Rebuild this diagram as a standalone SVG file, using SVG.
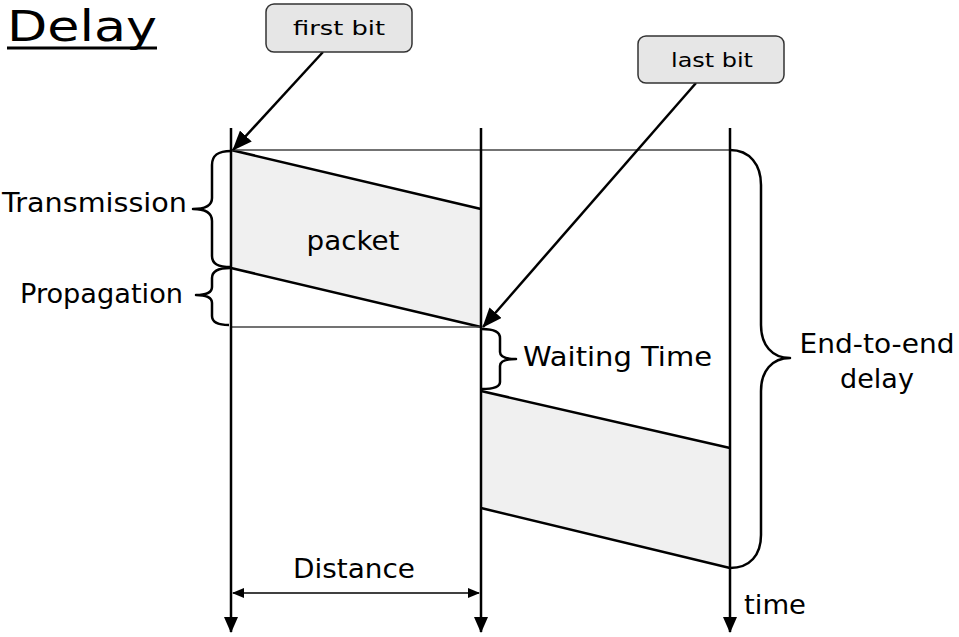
<svg xmlns="http://www.w3.org/2000/svg" width="959" height="637" viewBox="0 0 959 637">
<defs>
<style>
.lbl{font-family:"Comic Sans MS","DejaVu Sans",sans-serif;font-size:27px;fill:#000}
.small{font-family:"Comic Sans MS","DejaVu Sans",sans-serif;font-size:20px;fill:#000}
.tl{stroke:#000;stroke-width:2.5;fill:none}
.thin{stroke:#444;stroke-width:1.5;fill:none}
.edge{stroke:#000;stroke-width:2.5;fill:none}
.brace{stroke:#000;stroke-width:2.5;fill:none;stroke-linejoin:round}
.pkt{fill:#f0f0f0;stroke:none}
.callout{fill:#e6e6e6;stroke:#333;stroke-width:1.5}
</style>
<marker id="big" viewBox="0 0 16 14" markerWidth="16" markerHeight="14" refX="15" refY="7" orient="auto" markerUnits="userSpaceOnUse">
<path d="M0,0 L16,7 L0,14 z" fill="#000"/>
</marker>
<marker id="ptr" viewBox="0 0 20 16" markerWidth="20" markerHeight="16" refX="19" refY="8" orient="auto" markerUnits="userSpaceOnUse">
<path d="M0,0 L20,8 L0,16 z" fill="#000"/>
</marker>
<marker id="sm" viewBox="0 0 12 10" markerWidth="12" markerHeight="10" refX="11" refY="5" orient="auto-start-reverse" markerUnits="userSpaceOnUse">
<path d="M0,0 L12,5 L0,10 z" fill="#000"/>
</marker>
</defs>

<g id="title">
<text x="7" y="41" font-family="'DejaVu Sans',Verdana,sans-serif" font-size="43" textLength="150" lengthAdjust="spacingAndGlyphs">Delay</text>
<rect x="7" y="46.5" width="150" height="3" fill="#000"/>
</g>

<g id="packet1">
<polygon class="pkt" points="231,150 481,209 481,327 231,268"/>
<line class="edge" x1="231" y1="150" x2="481" y2="209"/>
<line class="edge" x1="231" y1="268" x2="481" y2="327"/>
<text class="lbl" x="353" y="250" text-anchor="middle" textLength="93" lengthAdjust="spacingAndGlyphs">packet</text>
</g>

<g id="packet2">
<polygon class="pkt" points="481,391 730,448 730,568 481,508"/>
<line class="edge" x1="481" y1="391" x2="730" y2="448"/>
<line class="edge" x1="481" y1="508" x2="730" y2="568"/>
</g>

<g id="guides">
<line class="thin" x1="231" y1="150" x2="730" y2="150"/>
<line class="thin" x1="231" y1="327" x2="481" y2="327"/>
</g>

<g id="connectors">
<line class="tl" x1="231" y1="128" x2="231" y2="632" marker-end="url(#big)"/>
<line class="tl" x1="481" y1="128" x2="481" y2="632" marker-end="url(#big)"/>
<line class="tl" x1="730" y1="128" x2="730" y2="632" marker-end="url(#big)"/>
<line x1="323" y1="52" x2="233" y2="150" stroke="#000" stroke-width="2.5" marker-end="url(#ptr)"/>
<line x1="696" y1="83" x2="483" y2="327" stroke="#000" stroke-width="2.5" marker-end="url(#ptr)"/>
<line x1="233" y1="593" x2="479" y2="593" stroke="#000" stroke-width="1.5" marker-start="url(#sm)" marker-end="url(#sm)"/>
</g>

<g id="first-bit">
<rect class="callout" x="266" y="4" width="146" height="48" rx="8"/>
<text class="small" x="339" y="35" text-anchor="middle" textLength="92" lengthAdjust="spacingAndGlyphs">first bit</text>
</g>

<g id="last-bit">
<rect class="callout" x="638" y="36" width="146" height="47" rx="8"/>
<text class="small" x="712" y="67" text-anchor="middle" textLength="82" lengthAdjust="spacingAndGlyphs">last bit</text>
</g>

<g id="transmission">
<path class="brace" d="M231,151 C218,151 212,155 212,165 L212,198 C212,206 205,209 193,209 C205,209 212,213 212,221 L212,256 C212,264 218,267 231,267"/>
<text class="lbl" x="187" y="212" text-anchor="end" textLength="185" lengthAdjust="spacingAndGlyphs">Transmission</text>
</g>

<g id="propagation">
<path class="brace" d="M230,268 C218,268 212,271 212,278 L212,287 C212,292 207,295 196,295 C207,295 212,298 212,303 L212,316 C212,322 218,325 229,325"/>
<text class="lbl" x="183" y="303" text-anchor="end" textLength="163" lengthAdjust="spacingAndGlyphs">Propagation</text>
</g>

<g id="waiting">
<path class="brace" d="M482,329 C494,329 500,332 500,338 L500,352 C500,356 505,359 516,359 C505,359 500,362 500,366 L500,382 C500,387 494,389 482,389"/>
<text class="lbl" x="523" y="366" textLength="189" lengthAdjust="spacingAndGlyphs">Waiting Time</text>
</g>

<g id="end-to-end">
<path class="brace" d="M730,150 C750,150 761,165 761,185 L761,325 C761,345 772,358 790,358 C772,358 761,371 761,391 L761,535 C761,555 750,568 730,568"/>
<text class="lbl" x="877" y="353" text-anchor="middle" textLength="155" lengthAdjust="spacingAndGlyphs">End-to-end</text>
<text class="lbl" x="877" y="388" text-anchor="middle">delay</text>
</g>

<g id="distance">
<text class="lbl" x="354" y="578" text-anchor="middle" textLength="122" lengthAdjust="spacingAndGlyphs">Distance</text>
</g>

<g id="time">
<text class="lbl" x="744" y="614" textLength="62" lengthAdjust="spacingAndGlyphs">time</text>
</g>
</svg>
